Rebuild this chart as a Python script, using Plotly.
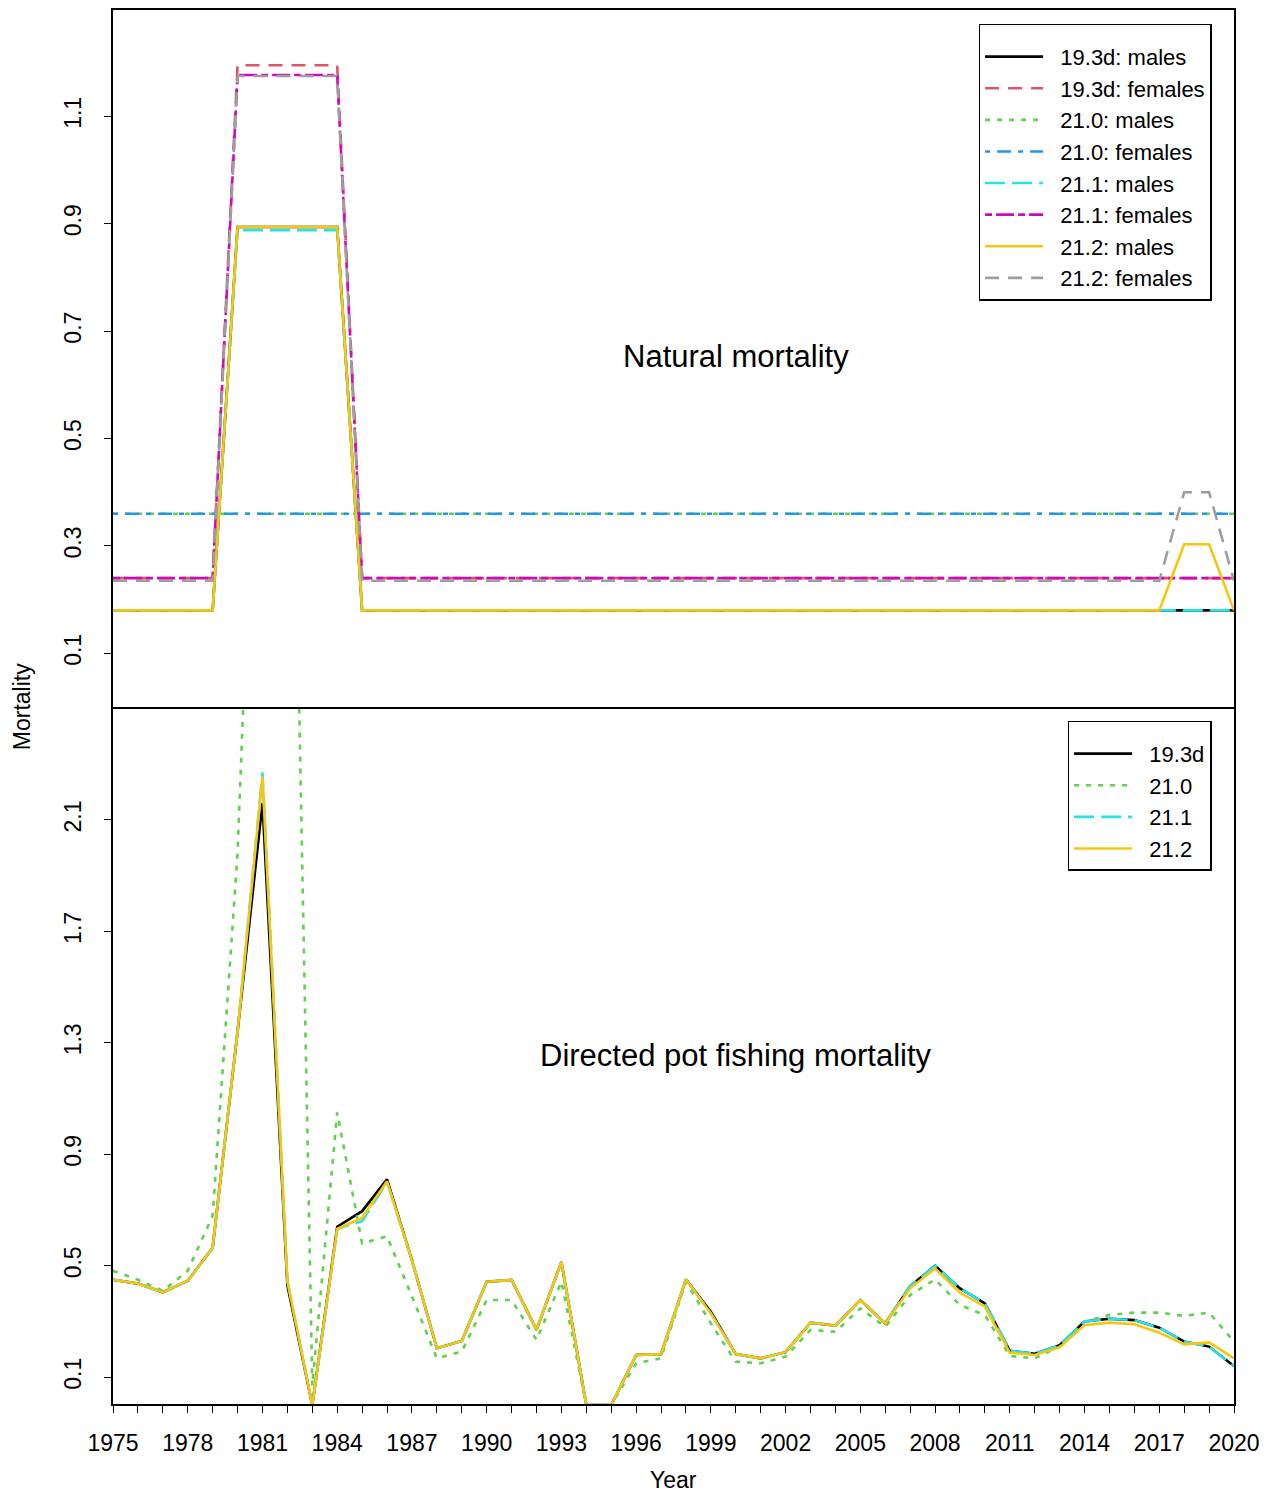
import plotly.graph_objects as go

years = list(range(1975, 2021))

# ---------------- Natural mortality (top panel) ----------------
def nm(base, high, late=None):
    vals = []
    for y in years:
        if 1980 <= y <= 1984:
            vals.append(high)
        elif late is not None and y in late:
            vals.append(late[y])
        else:
            vals.append(base)
    return vals

nm_193d_males = nm(0.18, 0.894)
nm_193d_females = nm(0.24, 1.195)
nm_210_males = [0.36] * len(years)
nm_210_females = [0.36] * len(years)
nm_211_males = nm(0.18, 0.888)
nm_211_females = nm(0.24, 1.177)
nm_212_males = nm(0.18, 0.894, {2018: 0.303, 2019: 0.303})
nm_212_females = nm(0.235, 1.175, {2018: 0.40, 2019: 0.40})

# ---------------- Directed pot fishing mortality (bottom panel) ----------------
f_212 = [0.45, 0.436, 0.405, 0.446, 0.565, 1.34, 2.255, 0.446, 0.0, 0.632,
         0.672, 0.803, 0.52, 0.204, 0.23, 0.443, 0.449, 0.27, 0.514, 0.0,
         0.0, 0.18, 0.183, 0.451, 0.329, 0.183, 0.168, 0.19, 0.296, 0.285,
         0.377, 0.293, 0.419, 0.49, 0.403, 0.353, 0.188, 0.18, 0.207, 0.287,
         0.296, 0.29, 0.26, 0.218, 0.225, 0.168]
f_193d = [0.45, 0.436, 0.405, 0.446, 0.565, 1.34, 2.16, 0.43, 0.0, 0.64,
          0.696, 0.81, 0.52, 0.204, 0.23, 0.443, 0.449, 0.27, 0.514, 0.0,
          0.0, 0.18, 0.183, 0.451, 0.335, 0.183, 0.168, 0.19, 0.296, 0.285,
          0.377, 0.293, 0.427, 0.50, 0.419, 0.365, 0.195, 0.184, 0.215, 0.30,
          0.31, 0.305, 0.278, 0.228, 0.21, 0.14]
f_211 = [0.45, 0.436, 0.405, 0.446, 0.565, 1.34, 2.27, 0.446, 0.0, 0.632,
         0.66, 0.80, 0.52, 0.204, 0.23, 0.443, 0.449, 0.27, 0.514, 0.0,
         0.0, 0.18, 0.183, 0.451, 0.329, 0.183, 0.168, 0.19, 0.296, 0.285,
         0.377, 0.293, 0.427, 0.50, 0.419, 0.365, 0.195, 0.184, 0.215, 0.30,
         0.31, 0.305, 0.278, 0.228, 0.21, 0.14]
f_210 = [0.482, 0.45, 0.41, 0.482, 0.68, 1.98, 4.3, 4.7, 0.07, 1.05,
         0.58, 0.606, 0.39, 0.168, 0.192, 0.377, 0.377, 0.234, 0.443, 0.0,
         0.0, 0.15, 0.168, 0.443, 0.293, 0.156, 0.15, 0.174, 0.27, 0.263,
         0.347, 0.281, 0.395, 0.451, 0.359, 0.323, 0.176, 0.168, 0.21, 0.30,
         0.323, 0.332, 0.332, 0.32, 0.332, 0.228]

top_names = ["19.3d: males", "19.3d: females", "21.0: males", "21.0: females",
             "21.1: males", "21.1: females", "21.2: males", "21.2: females"]
bottom_names = ["19.3d", "21.0", "21.1", "21.2"]

x_tick_years = list(range(1975, 2021))
x_tick_labels = [str(y) if (y - 1975) % 3 == 0 else "" for y in x_tick_years]
top_yticks = [0.1, 0.3, 0.5, 0.7, 0.9, 1.1]
bottom_yticks = [0.1, 0.5, 0.9, 1.3, 1.7, 2.1]

# styles (R palette + R line types)
COL = {"black": "#000000", "red": "#DF536B", "green": "#61D04F", "blue": "#2297E6",
       "cyan": "#28E2E5", "magenta": "#CD0BBC", "yellow": "#F5C710", "gray": "#9E9E9E"}
DASH = {"solid": "solid", "dashed": "14px,9px", "dotted": "5px,7px",
        "dotdash": "5px,7px,14px,7px", "longdash": "20px,7px", "twodash": "7px,4px,18px,4px"}
LW = 2.6
FONT = "Liberation Sans, Arial, sans-serif"
FS = 23
LFS = 22
PAD = "\u00a0\u00a0"

fig = go.Figure()

top_series = [nm_193d_males, nm_193d_females, nm_210_males, nm_210_females,
              nm_211_males, nm_211_females, nm_212_males, nm_212_females]
top_styles = [("black", "solid"), ("red", "dashed"), ("green", "dotted"), ("blue", "dotdash"),
              ("cyan", "longdash"), ("magenta", "twodash"), ("yellow", "solid"), ("gray", "dashed")]
for name, vals, (c, d) in zip(top_names, top_series, top_styles):
    fig.add_trace(go.Scatter(x=years, y=vals, mode="lines", name=PAD + name,
                             line=dict(color=COL[c], dash=DASH[d], width=LW),
                             xaxis="x2", yaxis="y2", legend="legend", legendgroup=name))

bottom_series = [f_193d, f_210, f_211, f_212]
bottom_styles = [("black", "solid"), ("green", "dotted"), ("cyan", "longdash"), ("yellow", "solid")]
for name, vals, (c, d) in zip(bottom_names, bottom_series, bottom_styles):
    fig.add_trace(go.Scatter(x=years, y=vals, mode="lines", name=PAD + name,
                             line=dict(color=COL[c], dash=DASH[d], width=LW),
                             xaxis="x", yaxis="y", legend="legend2", legendgroup="b" + name))

axis_font = dict(family=FONT, size=FS, color="black")
common_y = dict(showline=True, mirror=True, linecolor="black", linewidth=1.5,
                ticks="outside", ticklen=7, tickwidth=1.2, tickcolor="black",
                tickangle=-90, showgrid=False, zeroline=False, tickfont=axis_font,
                ticklabelstandoff=14)

legend_common = dict(xanchor="right", yanchor="top",
                     bgcolor="white", bordercolor="black", borderwidth=1.5,
                     font=dict(family=FONT, size=LFS, color="black"),
                     tracegroupgap=0, itemwidth=58,
                     title=dict(text=" ", font=dict(size=8)))

fig.update_layout(
    width=1275, height=1494,
    margin=dict(l=113, r=41, t=8, b=90),
    plot_bgcolor="white", paper_bgcolor="white",
    font=dict(family=FONT, size=FS, color="black"),
    xaxis=dict(domain=[0, 1], anchor="y", range=[1975, 2020],
               tickmode="array", tickvals=x_tick_years, ticktext=x_tick_labels,
               showline=True, mirror=False, linecolor="black", linewidth=1.5,
               ticks="outside", ticklen=7, tickwidth=1.2, tickcolor="black",
               showgrid=False, zeroline=False, tickfont=axis_font, ticklabelstandoff=11),
    xaxis2=dict(domain=[0, 1], anchor="y2", matches="x", range=[1975, 2020],
                showline=True, mirror=True, linecolor="black", linewidth=1.5,
                ticks="", showticklabels=False, showgrid=False, zeroline=False),
    yaxis=dict(domain=[0, 0.5], anchor="x", range=[0.004, 2.505],
               tickmode="array", tickvals=bottom_yticks,
               ticktext=[str(v) for v in bottom_yticks], **common_y),
    yaxis2=dict(domain=[0.5, 1], anchor="x2", range=[0.0, 1.298],
                tickmode="array", tickvals=top_yticks,
                ticktext=[str(v) for v in top_yticks], **common_y),
    legend=dict(x=0.98, y=0.99, **legend_common),
    legend2=dict(x=0.98, y=0.49, **legend_common),
    showlegend=True,
    annotations=[
        dict(text="Natural mortality", x=2000, y=0.652, xref="x2", yref="y2",
             showarrow=False, font=dict(family=FONT, size=31, color="black")),
        dict(text="Directed pot fishing mortality", x=2000, y=1.254, xref="x", yref="y",
             showarrow=False, font=dict(family=FONT, size=31, color="black")),
        dict(text="Mortality", x=-0.081, y=0.5, xref="paper", yref="paper",
             xanchor="center", yanchor="middle",
             textangle=-90, showarrow=False, font=dict(family=FONT, size=FS, color="black")),
        dict(text="Year", x=0.5, y=-0.0544, xref="paper", yref="paper",
             xanchor="center", yanchor="middle",
             showarrow=False, font=dict(family=FONT, size=FS, color="black")),
    ],
)

fig.write_html("out.html")
